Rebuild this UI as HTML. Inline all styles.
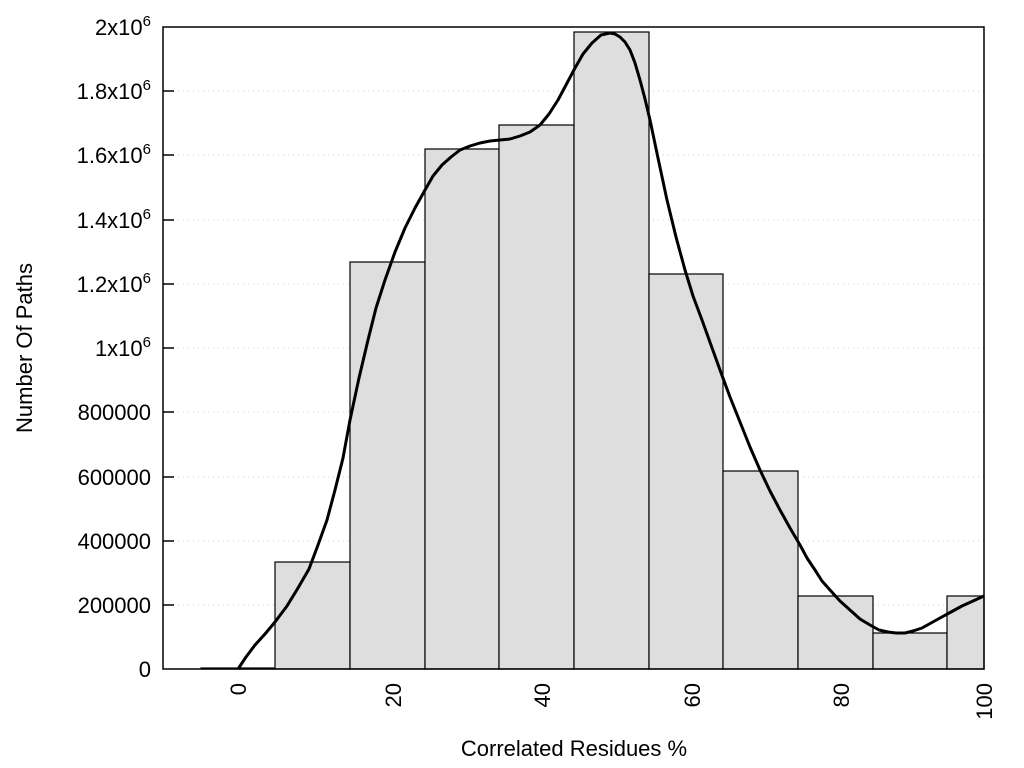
<!DOCTYPE html>
<html><head><style>body{margin:0;background:#fff}svg{display:block}</style></head><body>
<svg width="1024" height="768" viewBox="0 0 1024 768" font-family="Liberation Sans, sans-serif" font-size="22">
<g stroke="#ccc" stroke-width="1" stroke-dasharray="1,4">
<line x1="163" x2="984" y1="605" y2="605"/><line x1="163" x2="984" y1="541" y2="541"/><line x1="163" x2="984" y1="477" y2="477"/><line x1="163" x2="984" y1="412" y2="412"/><line x1="163" x2="984" y1="348" y2="348"/><line x1="163" x2="984" y1="284" y2="284"/><line x1="163" x2="984" y1="220" y2="220"/><line x1="163" x2="984" y1="155" y2="155"/><line x1="163" x2="984" y1="91" y2="91"/>
</g>
<g fill="#dedede" stroke="#000" stroke-width="1.2">
<rect x="201" y="668" width="74" height="1"/>
<rect x="275" y="562" width="75" height="107"/>
<rect x="350" y="262" width="75" height="407"/>
<rect x="425" y="149" width="74" height="520"/>
<rect x="499" y="125" width="75" height="544"/>
<rect x="574" y="32" width="75" height="637"/>
<rect x="649" y="274" width="74" height="395"/>
<rect x="723" y="471" width="75" height="198"/>
<rect x="798" y="596" width="75" height="73"/>
<rect x="873" y="633" width="74" height="36"/>
<rect x="947" y="596" width="37" height="73"/>
</g>
<polyline fill="none" stroke="#000" stroke-width="3" stroke-linejoin="round" points="238,669 246,657 255,645 265,634 275,622 287,606 298,588 309,569 318,545 327,520 335,490 343,458 350,420 359,378 368,340 376,308 385,280 395,252 405,228 415,208 425,190 433,176 442,165 451,157 460,150 470,146 480,143 490,141 500,140 510,139 520,136 530,132 540,125 549,114 558,100 566,85 575,68 583,54 592,43 601,35 610,33 615,34 620,37 625,42 630,50 635,63 640,80 645,99 650,120 658,158 667,200 676,237 685,270 693,296 702,320 711,345 720,370 730,397 740,422 750,447 760,470 770,491 780,510 790,528 800,545 807,558 815,570 822,581 830,590 840,601 850,610 860,619 870,625 879,630 888,632 896,633 905,633 913,631 922,628 931,623 940,618 951,612 962,606 973,601 984,596"/>
<rect x="163" y="27" width="821" height="642" fill="none" stroke="#000" stroke-width="1.5"/>
<g stroke="#000" stroke-width="1.5">
<line x1="163" x2="174" y1="605" y2="605"/><line x1="163" x2="174" y1="541" y2="541"/><line x1="163" x2="174" y1="477" y2="477"/><line x1="163" x2="174" y1="412" y2="412"/><line x1="163" x2="174" y1="348" y2="348"/><line x1="163" x2="174" y1="284" y2="284"/><line x1="163" x2="174" y1="220" y2="220"/><line x1="163" x2="174" y1="155" y2="155"/><line x1="163" x2="174" y1="91" y2="91"/>
</g>
<g text-anchor="end" fill="#000">
<text x="151" y="677">0</text>
<text x="151" y="613">200000</text>
<text x="151" y="549">400000</text>
<text x="151" y="485">600000</text>
<text x="151" y="420">800000</text>
<text x="151" y="356">1x10<tspan font-size="15" dy="-9">6</tspan></text>
<text x="151" y="292">1.2x10<tspan font-size="15" dy="-9">6</tspan></text>
<text x="151" y="228">1.4x10<tspan font-size="15" dy="-9">6</tspan></text>
<text x="151" y="163">1.6x10<tspan font-size="15" dy="-9">6</tspan></text>
<text x="151" y="99">1.8x10<tspan font-size="15" dy="-9">6</tspan></text>
<text x="151" y="35">2x10<tspan font-size="15" dy="-9">6</tspan></text>
</g>
<g text-anchor="end" fill="#000">
<text transform="translate(246,683) rotate(-90)">0</text>
<text transform="translate(401,683) rotate(-90)">20</text>
<text transform="translate(550,683) rotate(-90)">40</text>
<text transform="translate(700,683) rotate(-90)">60</text>
<text transform="translate(849,683) rotate(-90)">80</text>
<text transform="translate(992,683) rotate(-90)">100</text>
</g>
<text x="574" y="756" text-anchor="middle">Correlated Residues %</text>
<text transform="translate(32,348) rotate(-90)" text-anchor="middle">Number Of Paths</text>
</svg>
</body></html>
